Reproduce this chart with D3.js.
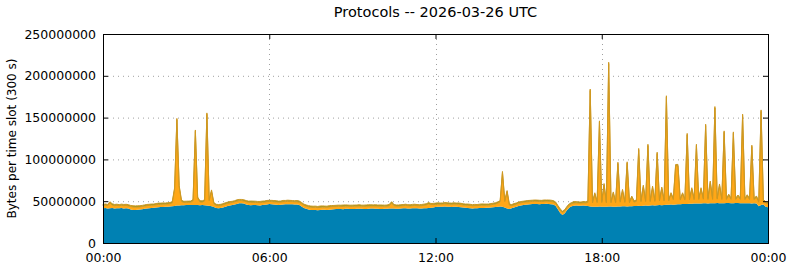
<!DOCTYPE html>
<html>
<head>
<meta charset="utf-8">
<script src="https://cdn.jsdelivr.net/npm/d3@7"></script>
<style>
  body { margin: 0; background: #fff; }
  svg { display: block; }
  text { font-family: "DejaVu Sans", sans-serif; fill: #000; }
</style>
</head>
<body>
<div class="chart"></div>
<script>
// values in millions of bytes per 300 s slot, slot 0 = 00:00 ... slot 288 = 24:00
const blueVals = [
  41.5,41.8,41.2,41.6,41.9,41.4,41.7,41.5,41.8,41.3,41.6,41.2,
  40.2,39.6,39.5,39.8,40.1,40.4,40.9,
  41.3,41.6,41.9,42.2,42.5,42.7,43.0,43.2,43.4,43.5,43.6,
  44.0,44.4,44.8,45.0,45.2,45.3,45.4,45.5,45.4,45.5,45.6,45.4,45.3,45.4,45.2,45.0,44.6,44.0,43.0,
  41.8,41.5,41.8,42.5,
  43.5,44.2,44.8,45.5,46.2,46.8,
  47.5,47.6,47.2,
  46.2,45.6,45.3,45.4,45.6,45.3,45.0,
  45.4,45.8,46.2,46.7,46.5,
  46.0,45.8,45.6,45.9,46.2,46.4,46.5,46.3,46.4,46.2,46.0,45.6,
  43.8,42.0,41.0,40.2,
  39.6,39.4,39.5,39.3,39.5,39.7,39.8,39.6,39.9,40.2,40.4,
  40.6,40.8,40.7,40.5,40.9,41.0,40.8,40.6,40.7,40.9,
  41.1,41.0,40.8,40.7,40.9,41.2,41.3,41.1,40.9,40.8,
  40.7,40.9,41.0,41.2,41.4,41.3,41.1,41.0,41.2,41.5,
  41.6,41.4,41.3,41.5,41.7,41.6,41.4,41.3,41.5,41.6,
  41.8,42.2,42.6,43.0,43.3,43.4,43.5,43.6,43.5,
  43.4,43.2,43.5,43.3,43.0,42.8,42.5,42.2,41.9,
  41.6,41.4,41.5,41.7,41.9,42.0,41.8,42.1,42.3,42.5,42.8,
  43.2,43.5,43.8,43.4,42.5,41.2,40.7,
  41.5,42.5,43.5,44.4,45.0,45.4,45.8,46.2,
  46.4,46.6,46.8,46.7,46.5,46.6,46.8,46.9,46.7,46.5,46.2,
  44.5,40.5,36.0,33.5,35.5,39.5,42.5,44.0,
  44.6,44.8,44.7,44.6,44.8,44.5,44.2,
  43.6,43.5,43.4,43.5,43.6,43.4,43.3,43.5,43.6,43.7,
  43.5,43.4,43.6,43.8,43.9,44.0,43.8,43.9,44.1,44.2,
  44.3,44.5,44.4,44.6,44.8,44.7,44.9,45.1,45.0,45.2,
  45.4,45.3,45.5,45.7,45.8,46.0,45.9,46.1,46.3,46.4,
  46.6,46.8,46.7,46.9,47.0,47.2,47.1,47.3,47.2,47.4,
  47.5,47.3,47.4,47.6,47.5,47.7,47.6,47.4,47.5,47.7,
  47.8,47.6,47.5,47.7,47.8,47.6,47.4,47.5,47.6,47.4,
  47.3,47.5,47.2,
  44.0,45.5,46.0,43.5,42.8
];

const orangeVals = [
  3.3,3.4,3.6,6.3,3.5,3.2,3.3,3.1,3.2,3.4,
  3.3,3.2,3.4,3.5,3.3,3.2,3.1,3.3,3.2,3.4,
  3.3,3.2,3.1,3.3,3.4,3.2,3.3,3.1,3.2,3.4,
  4.0,20.0,102.7,22.0,4.5,3.2,3.3,3.1,3.4,5.0,
  88.0,8.0,3.8,3.5,5.0,109.0,6.0,18.0,4.0,3.2,
  3.1,3.0,3.2,3.3,3.1,3.2,3.0,3.1,3.3,3.2,
  3.1,3.0,3.2,3.1,3.3,3.2,3.0,3.1,3.2,3.3,
  3.1,3.2,3.0,3.1,3.2,3.3,3.1,3.0,3.2,3.1,
  3.3,3.2,3.1,3.0,3.2,3.1,3.3,3.2,3.0,3.1,
  3.2,3.1,3.3,3.0,3.1,3.2,3.0,3.1,3.3,3.2,
  3.1,3.0,3.2,3.1,3.3,3.2,3.0,3.1,3.2,3.3,
  3.1,3.2,3.0,3.1,3.2,3.3,3.1,3.0,3.2,3.1,
  3.3,3.2,3.1,3.0,3.4,6.5,3.3,3.1,3.0,3.2,
  3.1,3.3,3.2,3.0,3.1,3.2,3.0,3.1,3.3,3.6,
  4.0,5.0,3.8,3.3,3.1,3.2,3.0,3.1,3.3,3.2,
  3.1,3.0,3.2,3.1,3.3,3.2,3.0,3.1,3.2,3.3,
  3.1,3.2,3.0,3.1,3.2,3.3,3.1,3.0,3.2,3.4,
  3.6,4.2,5.5,40.7,7.0,20.0,4.5,3.2,3.1,3.0,
  3.2,3.1,3.3,3.2,3.0,3.1,3.2,3.3,3.1,3.2,
  3.0,3.1,3.2,3.3,3.1,3.0,3.2,3.1,3.3,3.2,
  3.1,3.0,3.2,3.1,3.3,3.2,3.0,3.1,3.2,3.5,
  4.5,138.9,4.5,15.1,4.8,100.9,5.0,26.2,4.6,170.9,
  4.4,16.0,4.8,51.4,5.0,18.6,4.6,51.7,4.4,10.4,
  4.8,5.5,67.0,5.0,22.9,4.8,71.8,4.6,21.4,4.8,
  61.8,5.0,20.0,4.8,128.7,4.6,12.6,6.0,46.2,46.1,
  5.0,11.9,4.6,82.8,4.8,17.5,4.6,69.4,4.8,17.3,
  5.0,93.0,4.8,25.1,4.6,114.0,4.8,21.4,4.6,85.0,
  4.4,9.0,4.6,83.8,4.4,8.0,4.6,105.1,4.4,8.5,
  4.6,68.1,4.4,7.5,4.8,112.0,4.6,4.2,4.0
];

const greenVals = [
  1.4,1.5,1.3,1.4,1.6,1.5,1.4,1.3,1.5,1.4,
  1.4,1.5,1.3,1.4,1.6,1.5,1.4,1.3,1.5,1.4,
  1.4,1.5,1.3,1.4,1.6,1.5,1.4,1.3,1.5,1.4,
  1.5,1.6,1.5,1.6,1.5,1.4,1.3,1.5,1.4,1.5,
  1.6,1.5,1.4,1.5,1.5,1.6,1.5,1.5,1.4,1.3,
  1.4,1.5,1.3,1.4,1.6,1.5,1.4,1.3,1.5,1.4,
  1.4,1.5,1.3,1.4,1.6,1.5,1.4,1.3,1.5,1.4,
  1.4,1.5,1.3,1.4,1.6,1.5,1.4,1.3,1.5,1.4,
  1.4,1.5,1.3,1.4,1.6,1.5,1.4,1.3,1.5,1.4,
  1.4,1.5,1.3,1.4,1.6,1.5,1.4,1.3,1.5,1.4,
  1.4,1.5,1.3,1.4,1.6,1.5,1.4,1.3,1.5,1.4,
  1.4,1.5,1.3,1.4,1.6,1.5,1.4,1.3,1.5,1.4,
  1.4,1.5,1.3,1.4,1.6,1.5,1.4,1.3,1.5,1.4,
  1.4,1.5,1.3,1.4,1.6,1.5,1.4,1.3,1.5,1.4,
  1.4,1.5,1.3,1.4,1.6,1.5,1.4,1.3,1.5,1.4,
  1.4,1.5,1.3,1.4,1.6,1.5,1.4,1.3,1.5,1.4,
  1.4,1.5,1.3,1.4,1.6,1.5,1.4,1.3,1.5,1.4,
  1.4,1.5,1.3,1.5,1.6,1.5,1.4,1.3,1.5,1.4,
  1.4,1.5,1.3,1.4,1.6,1.5,1.4,1.3,1.5,1.4,
  1.4,1.5,1.3,1.4,1.6,1.5,1.4,1.3,1.5,1.4,
  1.4,1.5,1.3,1.4,1.6,1.5,1.4,1.3,1.5,1.4,
  1.5,1.6,1.5,1.6,1.5,1.6,1.5,1.6,1.5,1.7,
  1.5,1.6,1.5,1.6,1.5,1.6,1.5,1.6,1.5,1.6,
  1.5,1.5,1.6,1.5,1.6,1.5,1.6,1.5,1.6,1.5,
  1.6,1.5,1.6,1.5,1.7,1.5,1.6,1.5,1.6,1.6,
  1.5,1.6,1.5,1.6,1.5,1.6,1.5,1.6,1.5,1.6,
  1.5,1.6,1.5,1.6,1.5,1.7,1.5,1.6,1.5,1.6,
  1.5,1.6,1.5,1.6,1.5,1.6,1.5,1.6,1.5,1.6,
  1.5,1.6,1.5,1.6,1.5,1.7,1.5,1.4,1.4
];

const yTicks = [0, 50000000, 100000000, 150000000, 200000000, 250000000];
const xTickHours = [0, 6, 12, 18, 24];
const xTickLabels = ["00:00", "06:00", "12:00", "18:00", "00:00"];

const width = 790,
  height = 267;
const margin = { top: 34, right: 22, bottom: 24, left: 103 };
const w = width - margin.left - margin.right,
  h = height - margin.top - margin.bottom;

const rows = blueVals.map((b, i) => ({
  slot: i,
  blue: b * 1e6,
  orange: orangeVals[i] * 1e6,
  green: greenVals[i] * 1e6,
}));

const stack = d3.stack().keys(["blue", "orange", "green"]);
const series = stack(rows);

const xScale = d3.scaleLinear().domain([0, 288]).range([0, w]);
const yScale = d3.scaleLinear().domain([0, 250000000]).range([h, 0]);

const colors = { blue: "#0081b3", orange: "#ffa717", green: "#8a9b2c" };

const svg = d3
  .select(".chart")
  .append("svg")
  .attr("width", width)
  .attr("height", height);

svg
  .append("text")
  .attr("x", margin.left + w / 2)
  .attr("y", 17)
  .attr("text-anchor", "middle")
  .style("font-size", "14.5px")
  .text("Protocols -- 2026-03-26 UTC");

svg
  .append("text")
  .attr("transform", "rotate(-90)")
  .attr("x", -(margin.top + h / 2))
  .attr("y", 16)
  .attr("text-anchor", "middle")
  .style("font-size", "12px")
  .text("Bytes per time slot (300 s)");

const g = svg
  .append("g")
  .attr("transform", `translate(${margin.left}, ${margin.top})`);

// dotted grid
g.selectAll(".hgrid")
  .data(yTicks.slice(1, -1))
  .enter()
  .append("line")
  .attr("x1", 0)
  .attr("x2", w)
  .attr("y1", (d) => yScale(d) + 0.5)
  .attr("y2", (d) => yScale(d) + 0.5)
  .attr("stroke", "#a0a0a0")
  .attr("stroke-dasharray", "1,4");

g.selectAll(".vgrid")
  .data(xTickHours.slice(1, -1))
  .enter()
  .append("line")
  .attr("x1", (d) => Math.round(xScale(d * 12)) + 0.5)
  .attr("x2", (d) => Math.round(xScale(d * 12)) + 0.5)
  .attr("y1", 0)
  .attr("y2", h)
  .attr("stroke", "#a0a0a0")
  .attr("stroke-dasharray", "1,4");

const area = d3
  .area()
  .x((d) => xScale(d.data.slot))
  .y0((d) => yScale(d[0]))
  .y1((d) => yScale(d[1]));

g.selectAll(".layer")
  .data(series)
  .enter()
  .append("path")
  .attr("class", "layer")
  .attr("d", area)
  .attr("fill", (d) => colors[d.key])
  .attr("stroke", (d) => (d.key === "green" ? "#cf9820" : "none"))
  .attr("stroke-width", 1);

// axes, ticks pointing inward on all sides
const yLeft = d3.axisLeft(yScale).tickValues(yTicks).tickSize(-5).tickPadding(7).tickFormat(d3.format("d"));
const yRight = d3.axisRight(yScale).tickValues(yTicks).tickSize(-5).tickFormat("");
const xBottom = d3
  .axisBottom(xScale)
  .tickValues(xTickHours.map((d) => d * 12))
  .tickSize(-5)
  .tickPadding(10)
  .tickFormat((d, i) => xTickLabels[i]);
const xTop = d3.axisTop(xScale).tickValues(xTickHours.map((d) => d * 12)).tickSize(-5).tickFormat("");

g.append("g").attr("class", "axis").call(yLeft);
g.append("g").attr("class", "axis").attr("transform", `translate(${w},0)`).call(yRight);
g.append("g").attr("class", "axis").attr("transform", `translate(0,${h})`).call(xBottom);
g.append("g").attr("class", "axis").call(xTop);

g.selectAll(".axis .domain").remove();
g.selectAll(".axis text").style("font-size", "12.5px").style("font-family", "DejaVu Sans");
g.selectAll(".axis line").attr("stroke", "#000");

g.append("rect")
  .attr("x", 0.5)
  .attr("y", 0.5)
  .attr("width", w)
  .attr("height", h)
  .attr("fill", "none")
  .attr("stroke", "#000");
</script>
</body>
</html>
